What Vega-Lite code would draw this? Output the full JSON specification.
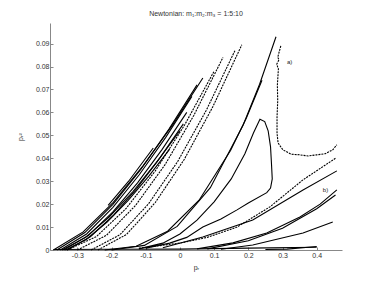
{
  "$schema": "https://vega.github.io/schema/vega-lite/v6.json",
  "autosize": "none",
  "width": 292,
  "height": 227,
  "padding": {"left": 50, "top": 23, "right": 32, "bottom": 31},
  "background": "white",
  "config": {"view": {"stroke": null}, "font": "Liberation Sans", "axis": {"labelOverlap": false, "labelFontSize": 7, "labelColor": "#333", "domainColor": "#888", "tickColor": "#888", "grid": false}},
  "title": {"text": "Newtonian: m₁:m₂:m₃ = 1:5:10", "fontSize": 7, "fontWeight": "normal", "color": "#333", "offset": 6},
  "datasets": {
    "curves": [
      {"c":"L0","x":-0.21,"y":0.0195},{"c":"L0","x":-0.15,"y":0.030},{"c":"L0","x":-0.078,"y":0.0445},
      {"c":"L1","x":-0.37,"y":0},{"c":"L1","x":-0.283,"y":0.0079},{"c":"L1","x":-0.195,"y":0.0208},{"c":"L1","x":-0.108,"y":0.0367},{"c":"L1","x":-0.02,"y":0.0549},{"c":"L1","x":0.067,"y":0.075},
      {"c":"L2","x":-0.36,"y":0},{"c":"L2","x":-0.278,"y":0.0076},{"c":"L2","x":-0.196,"y":0.0199},{"c":"L2","x":-0.114,"y":0.0352},{"c":"L2","x":-0.032,"y":0.0527},{"c":"L2","x":0.05,"y":0.072},
      {"c":"L3","x":-0.35,"y":0},{"c":"L3","x":-0.273,"y":0.0070},{"c":"L3","x":-0.196,"y":0.0186},{"c":"L3","x":-0.119,"y":0.0328},{"c":"L3","x":-0.042,"y":0.049},{"c":"L3","x":0.035,"y":0.067},
      {"c":"L4","x":-0.345,"y":0},{"c":"L4","x":-0.276,"y":0.0055},{"c":"L4","x":-0.207,"y":0.0144},{"c":"L4","x":-0.138,"y":0.0254},{"c":"L4","x":-0.069,"y":0.0381},{"c":"L4","x":0.0,"y":0.052},
      {"c":"L5","x":-0.34,"y":0},{"c":"L5","x":-0.268,"y":0.0063},{"c":"L5","x":-0.196,"y":0.0166},{"c":"L5","x":-0.124,"y":0.0293},{"c":"L5","x":-0.052,"y":0.0439},{"c":"L5","x":0.02,"y":0.06},
      {"c":"L6","x":-0.335,"y":0},{"c":"L6","x":-0.274,"y":0.0046},{"c":"L6","x":-0.213,"y":0.0122},{"c":"L6","x":-0.152,"y":0.0215},{"c":"L6","x":-0.091,"y":0.0322},{"c":"L6","x":-0.03,"y":0.044},
      {"c":"L7","x":-0.33,"y":0},{"c":"L7","x":-0.262,"y":0.0058},{"c":"L7","x":-0.194,"y":0.0152},{"c":"L7","x":-0.126,"y":0.0269},{"c":"L7","x":-0.058,"y":0.0403},{"c":"L7","x":0.01,"y":0.055},
      {"c":"M1","x":-0.33,"y":0},{"c":"M1","x":-0.244,"y":0.0059},{"c":"M1","x":-0.158,"y":0.018},{"c":"M1","x":-0.072,"y":0.0345},{"c":"M1","x":0.014,"y":0.0546},{"c":"M1","x":0.10,"y":0.078},
      {"c":"M2","x":-0.30,"y":0},{"c":"M2","x":-0.215,"y":0.0064},{"c":"M2","x":-0.13,"y":0.0194},{"c":"M2","x":-0.044,"y":0.0371},{"c":"M2","x":0.041,"y":0.0588},{"c":"M2","x":0.126,"y":0.084},
      {"c":"M3","x":-0.26,"y":0},{"c":"M3","x":-0.176,"y":0.0066},{"c":"M3","x":-0.092,"y":0.0201},{"c":"M3","x":-0.007,"y":0.0385},{"c":"M3","x":0.077,"y":0.0609},{"c":"M3","x":0.161,"y":0.087},
      {"c":"M4","x":-0.24,"y":0},{"c":"M4","x":-0.156,"y":0.0068},{"c":"M4","x":-0.072,"y":0.0207},{"c":"M4","x":0.013,"y":0.0396},{"c":"M4","x":0.097,"y":0.0627},{"c":"M4","x":0.181,"y":0.0895},
      {"c":"T1","x":-0.2,"y":0},{"c":"T1","x":-0.104,"y":0.002},{"c":"T1","x":-0.008,"y":0.0103},{"c":"T1","x":0.089,"y":0.0272},{"c":"T1","x":0.185,"y":0.0545},{"c":"T1","x":0.233,"y":0.0723},{"c":"T1","x":0.281,"y":0.093},
      {"c":"T2","x":-0.22,"y":0},{"c":"T2","x":-0.128,"y":0.0016},{"c":"T2","x":-0.036,"y":0.0082},{"c":"T2","x":0.056,"y":0.0217},{"c":"T2","x":0.148,"y":0.0434},{"c":"T2","x":0.194,"y":0.0575},{"c":"T2","x":0.24,"y":0.074},
      {"c":"LP","x":-0.12,"y":0.0005},{"c":"LP","x":-0.05,"y":0.003},{"c":"LP","x":0.0,"y":0.007},{"c":"LP","x":0.05,"y":0.013},{"c":"LP","x":0.1,"y":0.021},{"c":"LP","x":0.15,"y":0.031},{"c":"LP","x":0.19,"y":0.042},{"c":"LP","x":0.215,"y":0.051},{"c":"LP","x":0.234,"y":0.057},{"c":"LP","x":0.248,"y":0.056},{"c":"LP","x":0.258,"y":0.052},{"c":"LP","x":0.265,"y":0.045},{"c":"LP","x":0.268,"y":0.037},{"c":"LP","x":0.27,"y":0.031},{"c":"LP","x":0.265,"y":0.027},{"c":"LP","x":0.254,"y":0.025},{"c":"LP","x":0.2,"y":0.0205},{"c":"LP","x":0.167,"y":0.0175},{"c":"LP","x":0.12,"y":0.0135},{"c":"LP","x":0.067,"y":0.010},{"c":"LP","x":0.02,"y":0.0055},{"c":"LP","x":-0.03,"y":0.003},{"c":"LP","x":-0.1,"y":0.0008},
      {"c":"A","x":0.295,"y":0.089},{"c":"A","x":0.286,"y":0.084},{"c":"A","x":0.29,"y":0.083},{"c":"A","x":0.283,"y":0.081},{"c":"A","x":0.288,"y":0.079},{"c":"A","x":0.285,"y":0.072},{"c":"A","x":0.286,"y":0.065},{"c":"A","x":0.284,"y":0.058},{"c":"A","x":0.284,"y":0.051},{"c":"A","x":0.287,"y":0.0467},{"c":"A","x":0.301,"y":0.0437},{"c":"A","x":0.325,"y":0.0418},{"c":"A","x":0.351,"y":0.0415},{"c":"A","x":0.375,"y":0.041},{"c":"A","x":0.40,"y":0.0415},{"c":"A","x":0.425,"y":0.042},{"c":"A","x":0.447,"y":0.0437},{"c":"A","x":0.459,"y":0.0459},
      {"c":"B1","x":-0.12,"y":0.0008},{"c":"B1","x":0.0,"y":0.003},{"c":"B1","x":0.08,"y":0.0055},{"c":"B1","x":0.167,"y":0.010},{"c":"B1","x":0.263,"y":0.0188},{"c":"B1","x":0.36,"y":0.0306},{"c":"B1","x":0.455,"y":0.040},
      {"c":"B2","x":-0.05,"y":0.001},{"c":"B2","x":0.067,"y":0.0057},{"c":"B2","x":0.213,"y":0.0131},{"c":"B2","x":0.36,"y":0.0262},{"c":"B2","x":0.459,"y":0.0345},
      {"c":"B3","x":0.05,"y":0.0005},{"c":"B3","x":0.155,"y":0.0031},{"c":"B3","x":0.254,"y":0.0074},{"c":"B3","x":0.351,"y":0.0144},{"c":"B3","x":0.41,"y":0.020},{"c":"B3","x":0.459,"y":0.0262},
      {"c":"B3b","x":0.08,"y":0.0005},{"c":"B3b","x":0.2,"y":0.004},{"c":"B3b","x":0.3,"y":0.0095},{"c":"B3b","x":0.4,"y":0.018},{"c":"B3b","x":0.455,"y":0.024},
      {"c":"B4","x":0.12,"y":0.0003},{"c":"B4","x":0.213,"y":0.0022},{"c":"B4","x":0.36,"y":0.0074},{"c":"B4","x":0.447,"y":0.0122},
      {"c":"B5","x":0.25,"y":0.0002},{"c":"B5","x":0.313,"y":0.0004},{"c":"B5","x":0.40,"y":0.0015},
      {"c":"BS","x":-0.37,"y":0.0002},{"c":"BS","x":-0.2,"y":0.0003},{"c":"BS","x":0.0,"y":0.0004},{"c":"BS","x":0.2,"y":0.0008},{"c":"BS","x":0.4,"y":0.0012}
    ],
    "labels": [
      {"t":"a)","x":0.313,"y":0.082},
      {"t":"b)","x":0.418,"y":0.026}
    ]
  },
  "encoding": {
    "x": {"field": "x", "type": "quantitative", "scale": {"domain": [-0.38, 0.474], "nice": false, "zero": false},
      "axis": {"values": [-0.3,-0.2,-0.1,0,0.1,0.2,0.3,0.4], "labelExpr": "toString(datum.value)", "labelOverlap": false, "title": "pᵣ", "titleFontSize": 7, "titleFontWeight": "normal", "titleColor": "#333", "titlePadding": 5, "tickSize": -3, "labelPadding": 4}},
    "y": {"field": "y", "type": "quantitative", "scale": {"domain": [0, 0.099], "nice": false},
      "axis": {"values": [0,0.01,0.02,0.03,0.04,0.05,0.06,0.07,0.08,0.09], "labelExpr": "toString(datum.value)", "labelOverlap": false, "title": "pᵣ²", "titleFontSize": 7, "titleFontWeight": "normal", "titleColor": "#333", "titlePadding": 12, "tickSize": -3, "labelPadding": 4}}
  },
  "layer": [
    {
      "data": {"name": "curves"},
      "transform": [
        {"window": [{"op": "row_number", "as": "i"}]},
        {"filter": {"not": {"field": "c", "oneOf": ["M1","M2","M3","M4","B1","A"]}}}
      ],
      "mark": {"type": "line", "color": "black", "strokeWidth": 1.1},
      "encoding": {
        "detail": {"field": "c"},
        "order": {"field": "i", "type": "quantitative"}
      }
    },
    {
      "data": {"name": "curves"},
      "transform": [
        {"window": [{"op": "row_number", "as": "i"}]},
        {"filter": {"field": "c", "oneOf": ["M1","M2","M3","M4","B1","A"]}}
      ],
      "mark": {"type": "line", "color": "black", "strokeWidth": 1.1, "strokeDash": [2, 1]},
      "encoding": {
        "detail": {"field": "c"},
        "order": {"field": "i", "type": "quantitative"}
      }
    },
    {
      "data": {"name": "labels"},
      "mark": {"type": "text", "fontSize": 6, "color": "#222", "align": "left"},
      "encoding": {
        "text": {"field": "t"}
      }
    }
  ]
}
